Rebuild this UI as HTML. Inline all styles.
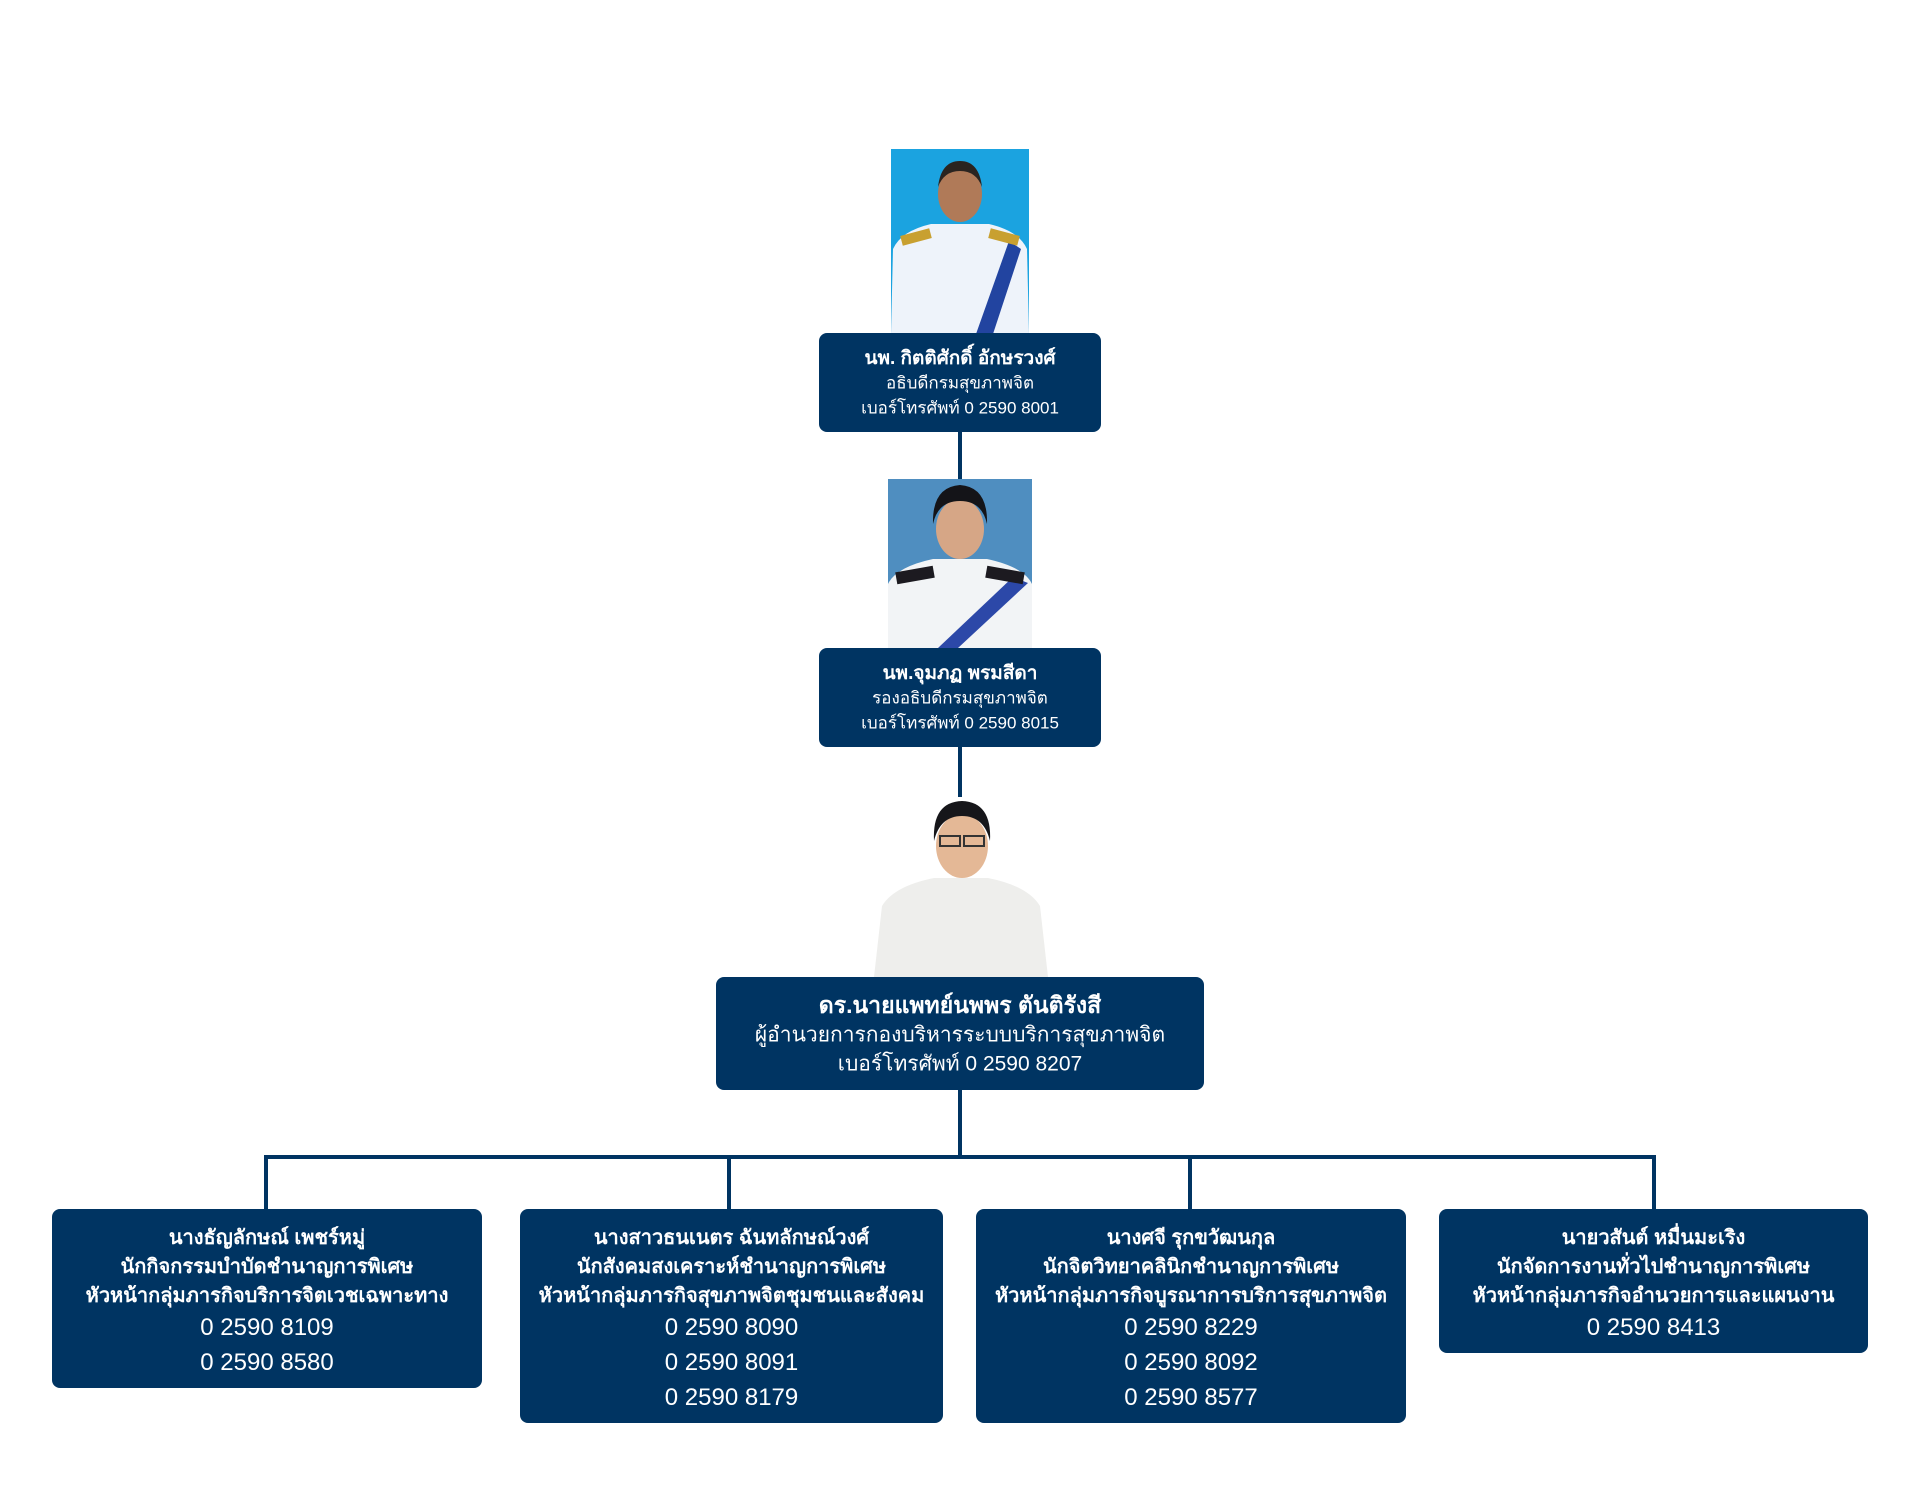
<!DOCTYPE html>
<html><head><meta charset="utf-8">
<style>
html,body{margin:0;padding:0;background:#fff;}
body{width:1920px;height:1500px;position:relative;overflow:hidden;font-family:"Liberation Sans","Noto Sans CJK SC","DejaVu Sans",sans-serif;}
.box{position:absolute;background:#003462;color:#fff;border-radius:8px;text-align:center;box-sizing:border-box;}
.ln{position:absolute;background:#003462;}
.t{position:absolute;left:0;right:0;white-space:nowrap;transform:translateY(-50%);}
.b{font-weight:bold;}
svg{position:absolute;}
</style></head><body>

<div class="ln" style="left:958px;top:432px;width:4px;height:48px"></div>
<div class="ln" style="left:958px;top:747px;width:4px;height:50px"></div>
<div class="ln" style="left:958px;top:1090px;width:4px;height:68px"></div>
<div class="ln" style="left:264px;top:1155px;width:1392px;height:4px"></div>
<div class="ln" style="left:264px;top:1155px;width:4px;height:55px"></div>
<div class="ln" style="left:727px;top:1155px;width:4px;height:55px"></div>
<div class="ln" style="left:1188px;top:1155px;width:4px;height:55px"></div>
<div class="ln" style="left:1652px;top:1155px;width:4px;height:55px"></div>

<svg style="left:891px;top:149px" width="138" height="185" viewBox="0 0 138 185">
<rect width="138" height="185" fill="#1ba3e0"/>
<path d="M0 185 L2 100 Q10 82 40 75 L98 75 Q128 82 136 100 L138 185Z" fill="#eef3fa"/>
<path d="M85 185 L118 92 L130 100 L102 185Z" fill="#2244a0"/>
<rect x="10" y="83" width="30" height="10" fill="#c8a030" transform="rotate(-15 25 88)"/>
<rect x="98" y="83" width="30" height="10" fill="#c8a030" transform="rotate(15 113 88)"/>
<ellipse cx="69" cy="45" rx="22" ry="28" fill="#b07a58"/>
<path d="M47 38 Q50 12 69 12 Q88 12 91 38 Q85 22 69 22 Q53 22 47 38Z" fill="#2a2420"/>
</svg>

<div class="box" style="left:819px;top:333px;width:282px;height:99px">
<div class="t b" style="top:25px;font-size:19px">นพ. กิตติศักดิ์ อักษรวงศ์</div>
<div class="t" style="top:50px;font-size:17px">อธิบดีกรมสุขภาพจิต</div>
<div class="t" style="top:75px;font-size:17px">เบอร์โทรศัพท์ 0 2590 8001</div>
</div>

<svg style="left:888px;top:479px" width="144" height="169" viewBox="0 0 144 169">
<rect width="144" height="169" fill="#4f8ec0"/>
<path d="M0 169 L0 105 Q8 88 45 80 L99 80 Q136 88 144 105 L144 169Z" fill="#f2f4f6"/>
<path d="M50 169 L125 98 L140 104 L70 169Z" fill="#2c48a8"/>
<rect x="8" y="90" width="38" height="12" fill="#1c1a20" transform="rotate(-10 27 96)"/>
<rect x="98" y="90" width="38" height="12" fill="#1c1a20" transform="rotate(10 117 96)"/>
<ellipse cx="72" cy="50" rx="24" ry="30" fill="#d6a686"/>
<path d="M45 45 Q44 8 72 6 Q100 8 99 45 Q94 22 72 22 Q50 22 45 45Z" fill="#141418"/>
</svg>

<div class="box" style="left:819px;top:648px;width:282px;height:99px">
<div class="t b" style="top:25px;font-size:19px">นพ.จุมภฏ พรมสีดา</div>
<div class="t" style="top:50px;font-size:17px">รองอธิบดีกรมสุขภาพจิต</div>
<div class="t" style="top:75px;font-size:17px">เบอร์โทรศัพท์ 0 2590 8015</div>
</div>

<svg style="left:874px;top:796px" width="174" height="181" viewBox="0 0 174 181">
<path d="M0 181 L8 110 Q20 90 60 82 L114 82 Q154 90 166 110 L174 181Z" fill="#eeeeec"/>
<ellipse cx="88" cy="50" rx="26" ry="32" fill="#e4b896"/>
<path d="M60 45 Q58 6 88 5 Q118 6 116 45 Q110 20 88 20 Q66 20 60 45Z" fill="#16161a"/>
<rect x="66" y="40" width="20" height="10" fill="none" stroke="#333" stroke-width="2"/>
<rect x="90" y="40" width="20" height="10" fill="none" stroke="#333" stroke-width="2"/>
</svg>

<div class="box" style="left:716px;top:977px;width:488px;height:113px">
<div class="t b" style="top:29px;font-size:23px">ดร.นายแพทย์นพพร ตันติรังสี</div>
<div class="t" style="top:58px;font-size:21px">ผู้อำนวยการกองบริหารระบบบริการสุขภาพจิต</div>
<div class="t" style="top:87px;font-size:21px">เบอร์โทรศัพท์ 0 2590 8207</div>
</div>

<div class="box" style="left:52px;top:1209px;width:430px;height:179px">
<div class="t b" style="top:28px;font-size:20px">นางธัญลักษณ์ เพชร์หมู่</div>
<div class="t b" style="top:57px;font-size:20px">นักกิจกรรมบำบัดชำนาญการพิเศษ</div>
<div class="t b" style="top:86px;font-size:20px">หัวหน้ากลุ่มภารกิจบริการจิตเวชเฉพาะทาง</div>
<div class="t" style="top:119px;font-size:24px">0 2590 8109</div>
<div class="t" style="top:154px;font-size:24px">0 2590 8580</div>
</div>

<div class="box" style="left:520px;top:1209px;width:423px;height:214px">
<div class="t b" style="top:28px;font-size:20px">นางสาวธนเนตร ฉันทลักษณ์วงศ์</div>
<div class="t b" style="top:57px;font-size:20px">นักสังคมสงเคราะห์ชำนาญการพิเศษ</div>
<div class="t b" style="top:86px;font-size:20px">หัวหน้ากลุ่มภารกิจสุขภาพจิตชุมชนและสังคม</div>
<div class="t" style="top:119px;font-size:24px">0 2590 8090</div>
<div class="t" style="top:154px;font-size:24px">0 2590 8091</div>
<div class="t" style="top:189px;font-size:24px">0 2590 8179</div>
</div>

<div class="box" style="left:976px;top:1209px;width:430px;height:214px">
<div class="t b" style="top:28px;font-size:20px">นางศจี รุกขวัฒนกุล</div>
<div class="t b" style="top:57px;font-size:20px">นักจิตวิทยาคลินิกชำนาญการพิเศษ</div>
<div class="t b" style="top:86px;font-size:20px">หัวหน้ากลุ่มภารกิจบูรณาการบริการสุขภาพจิต</div>
<div class="t" style="top:119px;font-size:24px">0 2590 8229</div>
<div class="t" style="top:154px;font-size:24px">0 2590 8092</div>
<div class="t" style="top:189px;font-size:24px">0 2590 8577</div>
</div>

<div class="box" style="left:1439px;top:1209px;width:429px;height:144px">
<div class="t b" style="top:28px;font-size:20px">นายวสันต์ หมื่นมะเริง</div>
<div class="t b" style="top:57px;font-size:20px">นักจัดการงานทั่วไปชำนาญการพิเศษ</div>
<div class="t b" style="top:86px;font-size:20px">หัวหน้ากลุ่มภารกิจอำนวยการและแผนงาน</div>
<div class="t" style="top:119px;font-size:24px">0 2590 8413</div>
</div>

</body></html>
